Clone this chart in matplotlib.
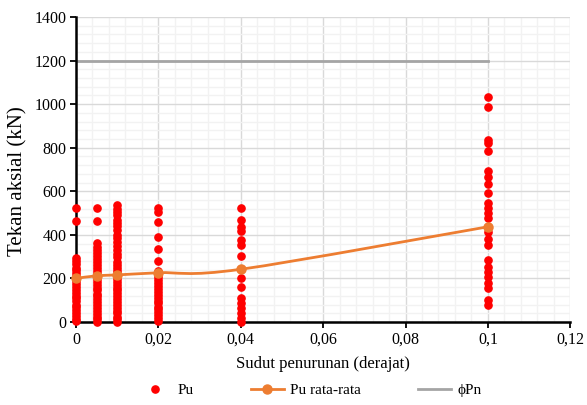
import matplotlib
matplotlib.use("Agg")
import matplotlib.pyplot as plt
from matplotlib.path import Path
from matplotlib.patches import PathPatch
from matplotlib.lines import Line2D
from matplotlib.ticker import MultipleLocator
import numpy as np

plt.rcParams['font.family'] = ['Liberation Serif', 'DejaVu Serif']

# ---- data ----
pu_x0 = 0.0
pu_v0 = [522, 463, 294, 280, 265, 250, 238, 225, 212, 200, 188, 175, 160, 148, 135,
         120, 108, 95, 80, 68, 55, 40, 28, 15, 5]
pu_x1 = 0.005
pu_v1 = [522, 463, 362, 345, 330, 318, 302, 290, 275, 262, 250, 235, 222, 210, 198,
         185, 170, 158, 145, 130, 118, 105, 90, 78, 65, 50, 38, 25, 12, 2]
pu_x2 = 0.01
pu_v2 = [537, 520, 505, 490, 470, 455, 440, 420, 400, 385, 365, 348, 330, 312, 298,
         275, 262, 248, 235, 222, 210, 198, 185, 170, 158, 145, 132, 120, 105, 92,
         80, 65, 52, 40, 25, 12, 2]
pu_x3 = 0.02
pu_v3 = [522, 505, 459, 390, 335, 280, 234, 220, 205, 192, 178, 165, 150, 138, 125,
         110, 98, 85, 70, 58, 45, 30, 18, 5]
pu_x4 = 0.04
pu_v4 = [522, 468, 437, 419, 376, 353, 303, 243, 202, 162, 109, 86, 63, 40, 17, 1]
pu_x5 = 0.1
pu_v5 = [1034, 988, 835, 820, 786, 694, 667, 633, 590, 545, 522, 499, 476, 437, 414,
         380, 353, 285, 254, 231, 208, 178, 155, 101, 78]

avg_x = [0.0, 0.005, 0.01, 0.02, 0.04, 0.1]
avg_v = [200, 212, 216, 226, 242, 437]

phipn_x = [0.0, 0.1]
phipn_v = [1200, 1200]

x_ticks = [0, 0.02, 0.04, 0.06, 0.08, 0.1, 0.12]
x_ticklabels = ['0', '0,02', '0,04', '0,06', '0,08', '0,1', '0,12']
y_ticks = [0, 200, 400, 600, 800, 1000, 1200, 1400]

RED = '#FF0000'
ORANGE = '#ED7D31'
GRAY = '#A5A5A5'

fig = plt.figure(figsize=(5.87, 4.05), dpi=100)
ax = fig.add_axes([0.1295, 0.205, 0.842, 0.753])

ax.set_xlim(0, 0.12)
ax.set_ylim(0, 1400)
ax.set_xticks(x_ticks)
ax.set_xticklabels(x_ticklabels)
ax.set_yticks(y_ticks)
ax.xaxis.set_minor_locator(MultipleLocator(0.004))
ax.yaxis.set_minor_locator(MultipleLocator(40))
ax.grid(which='minor', color='#F2F2F2', linewidth=1.0, zorder=0)
ax.grid(which='major', color='#D9D9D9', linewidth=1.0, zorder=0.5)
ax.set_axisbelow(True)
ax.tick_params(which='minor', length=0)
ax.tick_params(which='major', direction='out', length=4, width=1.3, color='black',
               labelsize=11.5, pad=3)

for s in ['top', 'right']:
    ax.spines[s].set_visible(False)
for s in ['left', 'bottom']:
    ax.spines[s].set_linewidth(1.8)
    ax.spines[s].set_color('black')

# phi Pn line
ax.plot(phipn_x, phipn_v, color=GRAY, linewidth=2.0, zorder=2)

# Pu points
cols = [(pu_x0, pu_v0), (pu_x1, pu_v1), (pu_x2, pu_v2), (pu_x3, pu_v3),
        (pu_x4, pu_v4), (pu_x5, pu_v5)]
for cx, cv in cols:
    ax.plot([cx] * len(cv), cv, 'o', color=RED, markersize=5.2, linestyle='none',
            zorder=3, clip_on=False)

# smoothed average line (Excel-style Bezier smoothing)
P = np.column_stack([avg_x, avg_v]).astype(float)
verts = [tuple(P[0])]
codes = [Path.MOVETO]
n = len(P)
for i in range(n - 1):
    p0 = P[i - 1] if i > 0 else P[i]
    p1 = P[i]
    p2 = P[i + 1]
    p3 = P[i + 2] if i + 2 < n else P[i + 1]
    c1 = p1 + (p2 - p0) / 6.0
    c2 = p2 - (p3 - p1) / 6.0
    verts += [tuple(c1), tuple(c2), tuple(p2)]
    codes += [Path.CURVE4, Path.CURVE4, Path.CURVE4]
patch = PathPatch(Path(verts, codes), facecolor='none', edgecolor=ORANGE,
                  linewidth=2.0, zorder=4)
ax.add_patch(patch)
ax.plot(avg_x, avg_v, 'o', color=ORANGE, markersize=6.5, linestyle='none', zorder=5,
        clip_on=False)

ax.set_xlabel('Sudut penurunan (derajat)', fontsize=12, labelpad=6)
ax.set_ylabel('Tekan aksial (kN)', fontsize=15)
ax.yaxis.set_label_coords(-0.098, 0.462)

handles = [
    Line2D([], [], marker='o', color=RED, linestyle='none', markersize=5.2),
    Line2D([], [], marker='o', color=ORANGE, linewidth=2.0, markersize=6.5),
    Line2D([], [], color=GRAY, linewidth=2.0),
]
labels = ['Pu', 'Pu rata-rata', 'ϕPn']
fig.legend(handles, labels, loc='center', bbox_to_anchor=(0.528, 0.037), ncol=3,
           frameon=False, fontsize=11, handlelength=2.2, columnspacing=3.7,
           handletextpad=0.4)

fig.savefig('out.png', dpi=100)
